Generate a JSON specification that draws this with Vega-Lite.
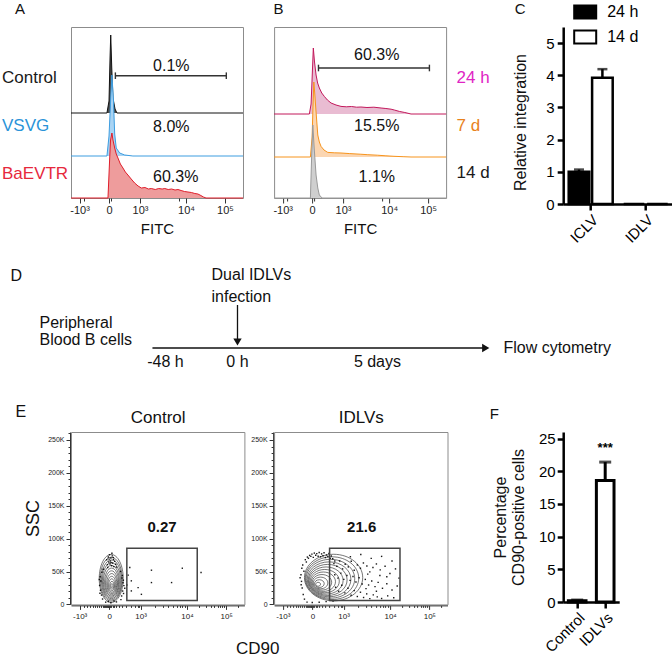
{
  "$schema": "https://vega.github.io/schema/vega-lite/v6.json",
  "background": "white",
  "padding": {"left": 1, "top": 0, "right": 0, "bottom": 0},
  "autosize": {"type": "pad"},
  "columns": 3,
  "bounds": "flush",
  "spacing": {"row": 54, "column": 29.1},
  "resolve": {"scale": {"fill": "independent", "size": "independent", "shape": "independent"}, "legend": {"fill": "independent", "size": "independent", "shape": "independent"}},
  "config": {
    "font": "Liberation Sans",
    "view": {"stroke": "#8c8c8c", "strokeWidth": 1},
    "axis": {"grid": false, "labelColor": "#222", "tickColor": "#333", "titleColor": "#111", "titleFontWeight": "normal"},
    "title": {"fontWeight": "normal", "color": "#111"}
  },
  "datasets": {
    "hist": [
      {"s":"Control","x":0,"h":0},{"s":"Control","x":209,"h":0},{"s":"Control","x":221,"h":12},{"s":"Control","x":227,"h":55},{"s":"Control","x":231,"h":78},{"s":"Control","x":237,"h":45},{"s":"Control","x":244,"h":15},{"s":"Control","x":256,"h":4},{"s":"Control","x":267,"h":0},{"s":"Control","x":1000,"h":0},
      {"s":"VSVG","x":0,"h":0},{"s":"VSVG","x":209,"h":0},{"s":"VSVG","x":221,"h":20},{"s":"VSVG","x":233,"h":65},{"s":"VSVG","x":238,"h":81},{"s":"VSVG","x":247,"h":55},{"s":"VSVG","x":254,"h":22},{"s":"VSVG","x":263,"h":8},{"s":"VSVG","x":283,"h":3},{"s":"VSVG","x":312,"h":1},{"s":"VSVG","x":360,"h":0},{"s":"VSVG","x":1000,"h":0},
      {"s":"BaEVTR","x":0,"h":0},{"s":"BaEVTR","x":215,"h":0},{"s":"BaEVTR","x":220,"h":20},{"s":"BaEVTR","x":225,"h":40},{"s":"BaEVTR","x":230,"h":58},{"s":"BaEVTR","x":238,"h":65},{"s":"BaEVTR","x":244,"h":58},{"s":"BaEVTR","x":254,"h":50},{"s":"BaEVTR","x":263,"h":44},{"s":"BaEVTR","x":273,"h":40},{"s":"BaEVTR","x":287,"h":34},{"s":"BaEVTR","x":302,"h":30},{"s":"BaEVTR","x":316,"h":26},{"s":"BaEVTR","x":331,"h":23},{"s":"BaEVTR","x":350,"h":19},{"s":"BaEVTR","x":370,"h":15},{"s":"BaEVTR","x":390,"h":12},{"s":"BaEVTR","x":409,"h":10},{"s":"BaEVTR","x":430,"h":10.5},{"s":"BaEVTR","x":450,"h":9},{"s":"BaEVTR","x":467,"h":9.5},{"s":"BaEVTR","x":490,"h":8.5},{"s":"BaEVTR","x":510,"h":9.5},{"s":"BaEVTR","x":530,"h":9},{"s":"BaEVTR","x":545,"h":9.5},{"s":"BaEVTR","x":565,"h":8.5},{"s":"BaEVTR","x":585,"h":9},{"s":"BaEVTR","x":605,"h":8},{"s":"BaEVTR","x":622,"h":8.5},{"s":"BaEVTR","x":640,"h":7.5},{"s":"BaEVTR","x":660,"h":6.5},{"s":"BaEVTR","x":680,"h":6},{"s":"BaEVTR","x":700,"h":5.5},{"s":"BaEVTR","x":720,"h":4.5},{"s":"BaEVTR","x":738,"h":4},{"s":"BaEVTR","x":755,"h":2.5},{"s":"BaEVTR","x":770,"h":1},{"s":"BaEVTR","x":785,"h":0},{"s":"BaEVTR","x":1000,"h":0},
      {"s":"24 h","x":0,"h":0},{"s":"24 h","x":205,"h":0},{"s":"24 h","x":215,"h":10},{"s":"24 h","x":222,"h":40},{"s":"24 h","x":228,"h":66},{"s":"24 h","x":235,"h":52},{"s":"24 h","x":244,"h":39},{"s":"24 h","x":253,"h":31},{"s":"24 h","x":263,"h":26},{"s":"24 h","x":277,"h":21},{"s":"24 h","x":292,"h":17.6},{"s":"24 h","x":310,"h":14},{"s":"24 h","x":331,"h":11},{"s":"24 h","x":360,"h":9},{"s":"24 h","x":389,"h":7.6},{"s":"24 h","x":420,"h":7.2},{"s":"24 h","x":450,"h":7.5},{"s":"24 h","x":480,"h":6.8},{"s":"24 h","x":505,"h":7},{"s":"24 h","x":540,"h":6.5},{"s":"24 h","x":580,"h":6.8},{"s":"24 h","x":622,"h":6},{"s":"24 h","x":650,"h":5.5},{"s":"24 h","x":680,"h":4.8},{"s":"24 h","x":699,"h":4},{"s":"24 h","x":730,"h":2.5},{"s":"24 h","x":760,"h":1.5},{"s":"24 h","x":796,"h":0},{"s":"24 h","x":1000,"h":0},
      {"s":"7 d","x":0,"h":0},{"s":"7 d","x":211,"h":0},{"s":"7 d","x":221,"h":20},{"s":"7 d","x":226,"h":50},{"s":"7 d","x":231,"h":75},{"s":"7 d","x":237,"h":62},{"s":"7 d","x":244,"h":45},{"s":"7 d","x":254,"h":22},{"s":"7 d","x":263,"h":15},{"s":"7 d","x":273,"h":10.6},{"s":"7 d","x":290,"h":7},{"s":"7 d","x":312,"h":4.6},{"s":"7 d","x":350,"h":4.2},{"s":"7 d","x":389,"h":4},{"s":"7 d","x":440,"h":3.4},{"s":"7 d","x":500,"h":2.8},{"s":"7 d","x":545,"h":2.3},{"s":"7 d","x":600,"h":1.8},{"s":"7 d","x":650,"h":1.2},{"s":"7 d","x":697,"h":0.7},{"s":"7 d","x":750,"h":0.3},{"s":"7 d","x":796,"h":0},{"s":"7 d","x":1000,"h":0},
      {"s":"14 d","x":0,"h":0},{"s":"14 d","x":211,"h":0},{"s":"14 d","x":218,"h":40},{"s":"14 d","x":225,"h":73},{"s":"14 d","x":233,"h":50},{"s":"14 d","x":244,"h":23},{"s":"14 d","x":254,"h":10},{"s":"14 d","x":263,"h":3},{"s":"14 d","x":279,"h":0},{"s":"14 d","x":1000,"h":0}
    ],
    "rings": [
      {"p":"Control","lev":12,"x":232,"y":39400},{"p":"Control","lev":11,"x":232,"y":38300},{"p":"Control","lev":10,"x":233,"y":37200},{"p":"Control","lev":9,"x":233,"y":36100},{"p":"Control","lev":8,"x":233,"y":35000},{"p":"Control","lev":7,"x":234,"y":33900},{"p":"Control","lev":6,"x":234,"y":32800},{"p":"Control","lev":5,"x":235,"y":31700},{"p":"Control","lev":4,"x":235,"y":30600},{"p":"Control","lev":3,"x":235,"y":29800},{"p":"Control","lev":2,"x":236,"y":29000},{"p":"Control","lev":1,"x":236,"y":28600},
      {"p":"IDLVs","lev":12,"x":343,"y":40800},{"p":"IDLVs","lev":11,"x":334,"y":39900},{"p":"IDLVs","lev":10,"x":325,"y":39000},{"p":"IDLVs","lev":9,"x":317,"y":38100},{"p":"IDLVs","lev":8,"x":309,"y":37200},{"p":"IDLVs","lev":7,"x":300,"y":36300},{"p":"IDLVs","lev":6,"x":292,"y":35400},{"p":"IDLVs","lev":5,"x":284,"y":34500},{"p":"IDLVs","lev":4,"x":276,"y":33600},{"p":"IDLVs","lev":3,"x":268,"y":32600},{"p":"IDLVs","lev":2,"x":261,"y":31600},{"p":"IDLVs","lev":1,"x":254,"y":30600}
    ],
    "edots": [
      {"p":"Control","x":215,"y":72000},{"p":"Control","x":222,"y":75500},{"p":"Control","x":230,"y":70500},{"p":"Control","x":238,"y":73800},{"p":"Control","x":245,"y":68200},{"p":"Control","x":228,"y":66000},{"p":"Control","x":218,"y":64500},{"p":"Control","x":240,"y":62800},{"p":"Control","x":252,"y":65500},{"p":"Control","x":210,"y":60500},{"p":"Control","x":234,"y":58800},{"p":"Control","x":247,"y":57500},{"p":"Control","x":225,"y":61500},{"p":"Control","x":258,"y":61000},{"p":"Control","x":206,"y":67800},{"p":"Control","x":236,"y":77800},{"p":"Control","x":244,"y":71200},{"p":"Control","x":220,"y":68800},{"p":"Control","x":231,"y":63500},{"p":"Control","x":212,"y":56200},{"p":"Control","x":262,"y":56800},
      {"p":"Control","x":168,"y":42000},{"p":"Control","x":172,"y":35500},{"p":"Control","x":165,"y":28800},{"p":"Control","x":170,"y":21500},{"p":"Control","x":176,"y":14200},{"p":"Control","x":182,"y":8200},{"p":"Control","x":178,"y":48800},{"p":"Control","x":186,"y":53500},{"p":"Control","x":163,"y":37800},{"p":"Control","x":167,"y":17000},
      {"p":"Control","x":296,"y":44000},{"p":"Control","x":302,"y":36800},{"p":"Control","x":305,"y":28500},{"p":"Control","x":298,"y":20300},{"p":"Control","x":292,"y":12800},{"p":"Control","x":285,"y":50200},{"p":"Control","x":288,"y":7300},{"p":"Control","x":300,"y":33000},{"p":"Control","x":310,"y":24500},{"p":"Control","x":294,"y":40200},{"p":"Control","x":303,"y":16600},
      {"p":"Control","x":200,"y":3400},{"p":"Control","x":230,"y":2600},{"p":"Control","x":262,"y":3800},{"p":"Control","x":215,"y":4500},{"p":"Control","x":248,"y":5200},
      {"p":"Control","x":339,"y":56100},{"p":"Control","x":464,"y":52000},{"p":"Control","x":642,"y":55000},{"p":"Control","x":750,"y":48500},{"p":"Control","x":348,"y":35800},{"p":"Control","x":387,"y":25500},{"p":"Control","x":464,"y":33200},{"p":"Control","x":580,"y":33200},{"p":"Control","x":348,"y":20500},{"p":"Control","x":406,"y":15300},{"p":"Control","x":330,"y":44500},{"p":"Control","x":322,"y":29500},
      {"p":"IDLVs","x":180,"y":68000},{"p":"IDLVs","x":192,"y":72000},{"p":"IDLVs","x":205,"y":74500},{"p":"IDLVs","x":218,"y":76500},{"p":"IDLVs","x":232,"y":78000},{"p":"IDLVs","x":246,"y":77200},{"p":"IDLVs","x":260,"y":79000},{"p":"IDLVs","x":274,"y":76800},{"p":"IDLVs","x":288,"y":78500},{"p":"IDLVs","x":302,"y":75200},{"p":"IDLVs","x":316,"y":77600},{"p":"IDLVs","x":330,"y":73600},{"p":"IDLVs","x":198,"y":70200},{"p":"IDLVs","x":212,"y":73000},{"p":"IDLVs","x":226,"y":71500},{"p":"IDLVs","x":240,"y":74800},{"p":"IDLVs","x":254,"y":73300},{"p":"IDLVs","x":268,"y":72400},{"p":"IDLVs","x":282,"y":74000},{"p":"IDLVs","x":296,"y":71200},{"p":"IDLVs","x":310,"y":72800},{"p":"IDLVs","x":324,"y":70000},{"p":"IDLVs","x":186,"y":64500},{"p":"IDLVs","x":338,"y":69500},{"p":"IDLVs","x":350,"y":66000},
      {"p":"IDLVs","x":160,"y":55000},{"p":"IDLVs","x":155,"y":45000},{"p":"IDLVs","x":158,"y":35000},{"p":"IDLVs","x":162,"y":25000},{"p":"IDLVs","x":168,"y":15000},{"p":"IDLVs","x":175,"y":8000},{"p":"IDLVs","x":150,"y":40500},{"p":"IDLVs","x":165,"y":60000},{"p":"IDLVs","x":172,"y":50500},{"p":"IDLVs","x":156,"y":30000},
      {"p":"IDLVs","x":190,"y":3500},{"p":"IDLVs","x":220,"y":2800},{"p":"IDLVs","x":260,"y":3200},{"p":"IDLVs","x":300,"y":4200},{"p":"IDLVs","x":340,"y":5000},
      {"p":"IDLVs","x":345,"y":62000},{"p":"IDLVs","x":362,"y":58000},{"p":"IDLVs","x":378,"y":66000},{"p":"IDLVs","x":395,"y":54000},{"p":"IDLVs","x":410,"y":61000},{"p":"IDLVs","x":428,"y":57000},{"p":"IDLVs","x":445,"y":65500},{"p":"IDLVs","x":462,"y":52000},{"p":"IDLVs","x":480,"y":60000},{"p":"IDLVs","x":498,"y":55000},{"p":"IDLVs","x":515,"y":63000},{"p":"IDLVs","x":535,"y":58500},{"p":"IDLVs","x":552,"y":49500},{"p":"IDLVs","x":570,"y":56000},{"p":"IDLVs","x":590,"y":61500},{"p":"IDLVs","x":612,"y":52500},{"p":"IDLVs","x":640,"y":58000},{"p":"IDLVs","x":668,"y":47000},{"p":"IDLVs","x":700,"y":54000},
      {"p":"IDLVs","x":350,"y":45000},{"p":"IDLVs","x":368,"y":40000},{"p":"IDLVs","x":385,"y":47500},{"p":"IDLVs","x":402,"y":38000},{"p":"IDLVs","x":420,"y":44000},{"p":"IDLVs","x":438,"y":36500},{"p":"IDLVs","x":455,"y":42500},{"p":"IDLVs","x":472,"y":34000},{"p":"IDLVs","x":490,"y":40500},{"p":"IDLVs","x":508,"y":31000},{"p":"IDLVs","x":526,"y":38000},{"p":"IDLVs","x":545,"y":29500},{"p":"IDLVs","x":563,"y":35500},{"p":"IDLVs","x":582,"y":27000},{"p":"IDLVs","x":600,"y":33500},{"p":"IDLVs","x":625,"y":24500},{"p":"IDLVs","x":650,"y":31500},{"p":"IDLVs","x":680,"y":22000},{"p":"IDLVs","x":710,"y":28000},
      {"p":"IDLVs","x":355,"y":26000},{"p":"IDLVs","x":372,"y":20000},{"p":"IDLVs","x":390,"y":29000},{"p":"IDLVs","x":408,"y":17500},{"p":"IDLVs","x":426,"y":24500},{"p":"IDLVs","x":444,"y":14000},{"p":"IDLVs","x":462,"y":21000},{"p":"IDLVs","x":480,"y":12000},{"p":"IDLVs","x":498,"y":18500},{"p":"IDLVs","x":516,"y":10500},{"p":"IDLVs","x":534,"y":16000},{"p":"IDLVs","x":552,"y":8800},{"p":"IDLVs","x":572,"y":14500},{"p":"IDLVs","x":595,"y":11500},{"p":"IDLVs","x":620,"y":9000},{"p":"IDLVs","x":655,"y":13000},{"p":"IDLVs","x":690,"y":10000},
      {"p":"IDLVs","x":560,"y":70000},{"p":"IDLVs","x":620,"y":73000},{"p":"IDLVs","x":500,"y":76000},{"p":"IDLVs","x":440,"y":72500},{"p":"IDLVs","x":680,"y":66000},{"p":"IDLVs","x":720,"y":40000},{"p":"IDLVs","x":650,"y":42000},{"p":"IDLVs","x":610,"y":44000},{"p":"IDLVs","x":540,"y":46000},{"p":"IDLVs","x":590,"y":20000},{"p":"IDLVs","x":530,"y":24000}
    ]
  },
  "concat": [
    {
      "width": 172, "height": 171,
      "resolve": {"scale": {"y": "independent"}, "axis": {"y": "independent", "x": "independent"}},
      "layer": [
        {"layer": [
          {"data": {"name": "hist"}, "transform": [{"filter": "datum.s == 'Control'"}], "mark": {"type": "area", "color": "#4a4a4a"},
           "encoding": {"x": {"field": "x", "type": "quantitative", "scale": {"domain": [0, 1000]}, "axis": null},
                        "y": {"field": "h", "type": "quantitative", "scale": {"domain": [-85, 86]}, "axis": {"orient": "left", "title": "Control", "titleAngle": 0, "titleAlign": "left", "titleBaseline": "middle", "titleX": -69.5, "titleY": 50, "titleFontSize": 17, "titleColor": "#1a1a1a", "labels": false, "ticks": false, "domain": false}}}},
          {"data": {"name": "hist"}, "transform": [{"filter": "datum.s == 'Control'"}], "mark": {"type": "line", "color": "#111", "strokeWidth": 1},
           "encoding": {"x": {"field": "x", "type": "quantitative", "scale": {"domain": [0, 1000]}, "axis": null}, "y": {"field": "h", "type": "quantitative", "scale": {"domain": [-85, 86]}}}},
          {"data": {"values": [{"x1": 258, "x2": 903, "h": 37.3, "lo": 34, "hi": 40.6}]}, "mark": {"type": "rule", "color": "#333", "strokeWidth": 1.4},
           "encoding": {"x": {"field": "x1", "type": "quantitative", "scale": {"domain": [0, 1000]}, "axis": null}, "x2": {"field": "x2"}, "y": {"field": "h", "type": "quantitative", "scale": {"domain": [-85, 86]}}}},
          {"data": {"values": [{"x1": 258, "x2": 903, "h": 37.3, "lo": 34, "hi": 40.6}]}, "mark": {"type": "rule", "color": "#333", "strokeWidth": 1.4},
           "encoding": {"x": {"field": "x1", "type": "quantitative", "scale": {"domain": [0, 1000]}, "axis": null}, "y": {"field": "lo", "type": "quantitative", "scale": {"domain": [-85, 86]}}, "y2": {"field": "hi"}}},
          {"data": {"values": [{"x1": 258, "x2": 903, "h": 37.3, "lo": 34, "hi": 40.6}]}, "mark": {"type": "rule", "color": "#333", "strokeWidth": 1.4},
           "encoding": {"x": {"field": "x2", "type": "quantitative", "scale": {"domain": [0, 1000]}, "axis": null}, "y": {"field": "lo", "type": "quantitative", "scale": {"domain": [-85, 86]}}, "y2": {"field": "hi"}}},
          {"data": {"values": [{"x": 477, "h": 46.6, "t": "0.1%"}]}, "mark": {"type": "text", "align": "left", "baseline": "middle", "fontSize": 16, "color": "#111"},
           "encoding": {"x": {"field": "x", "type": "quantitative", "scale": {"domain": [0, 1000]}, "axis": null}, "y": {"field": "h", "type": "quantitative", "scale": {"domain": [-85, 86]}}, "text": {"field": "t"}}}
        ]},
        {"layer": [
          {"data": {"name": "hist"}, "transform": [{"filter": "datum.s == 'VSVG'"}], "mark": {"type": "area", "color": "#a9d4f4"},
           "encoding": {"x": {"field": "x", "type": "quantitative", "scale": {"domain": [0, 1000]}, "axis": {"orient": "bottom", "values": [75,95,112,127,140,152,163,173,182,190,197,203,208,212,216,226,232,240,250,262,277,295,318,345,370,385,393,482,529,562,588,610,628,643,657,737,777,805,827,845,860,873,885,963], "labels": false, "tickSize": 3, "domain": false, "title": "A", "titleX": -56.5, "titleY": -184.5, "titleAlign": "left", "titleBaseline": "alphabetic", "titleAngle": 0, "titleFontSize": 15}},
                        "y": {"field": "h", "type": "quantitative", "scale": {"domain": [-42, 129]}, "axis": {"orient": "left", "title": "VSVG", "titleAngle": 0, "titleAlign": "left", "titleBaseline": "middle", "titleX": -69.5, "titleY": 98, "titleFontSize": 17, "titleColor": "#2a93d8", "labels": false, "ticks": false, "domain": false}}}},
          {"data": {"name": "hist"}, "transform": [{"filter": "datum.s == 'VSVG'"}], "mark": {"type": "line", "color": "#3d9de0", "strokeWidth": 1},
           "encoding": {"x": {"field": "x", "type": "quantitative", "scale": {"domain": [0, 1000]}}, "y": {"field": "h", "type": "quantitative", "scale": {"domain": [-42, 129]}}}},
          {"data": {"values": [{"x": 477, "h": 29.3, "t": "8.0%"}]}, "mark": {"type": "text", "align": "left", "baseline": "middle", "fontSize": 16, "color": "#111"},
           "encoding": {"x": {"field": "x", "type": "quantitative", "scale": {"domain": [0, 1000]}}, "y": {"field": "h", "type": "quantitative", "scale": {"domain": [-42, 129]}}, "text": {"field": "t"}}}
        ]},
        {"layer": [
          {"data": {"name": "hist"}, "transform": [{"filter": "datum.s == 'BaEVTR'"}], "mark": {"type": "area", "color": "#ee9c9c"},
           "encoding": {"x": {"field": "x", "type": "quantitative", "scale": {"domain": [0, 1000]}, "axis": {"orient": "bottom", "values": [50, 221, 401, 669, 895], "labelExpr": "{'50':'-10³','221':'0','401':'10³','669':'10⁴','895':'10⁵'}[datum.value]", "labelFontSize": 11, "tickSize": 5, "domain": false, "labelPadding": 1, "title": "FITC", "titleFontSize": 15, "titleY": 30, "titleBaseline": "middle"}},
                        "y": {"field": "h", "type": "quantitative", "scale": {"domain": [0, 171]}, "axis": {"orient": "left", "title": "BaEVTR", "titleAngle": 0, "titleAlign": "left", "titleBaseline": "middle", "titleX": -69.5, "titleY": 146, "titleFontSize": 17, "titleColor": "#e6283c", "labels": false, "ticks": false, "domain": false}}}},
          {"data": {"name": "hist"}, "transform": [{"filter": "datum.s == 'BaEVTR'"}], "mark": {"type": "line", "color": "#e01e2b", "strokeWidth": 1},
           "encoding": {"x": {"field": "x", "type": "quantitative", "scale": {"domain": [0, 1000]}}, "y": {"field": "h", "type": "quantitative", "scale": {"domain": [0, 171]}}}},
          {"data": {"values": [{"x": 477, "h": 21.3, "t": "60.3%"}]}, "mark": {"type": "text", "align": "left", "baseline": "middle", "fontSize": 16, "color": "#111"},
           "encoding": {"x": {"field": "x", "type": "quantitative", "scale": {"domain": [0, 1000]}}, "y": {"field": "h", "type": "quantitative", "scale": {"domain": [0, 171]}}, "text": {"field": "t"}}}
        ]}
      ]
    },
    {
      "width": 172, "height": 171,
      "resolve": {"scale": {"y": "independent"}, "axis": {"y": "independent", "x": "independent"}},
      "layer": [
        {"layer": [
          {"data": {"name": "hist"}, "transform": [{"filter": "datum.s == '24 h'"}], "mark": {"type": "area", "color": "#e9bcd2"},
           "encoding": {"x": {"field": "x", "type": "quantitative", "scale": {"domain": [0, 1000]}, "axis": null},
                        "y": {"field": "h", "type": "quantitative", "scale": {"domain": [-84, 87]}, "axis": {"orient": "right", "title": "24 h", "titleAngle": 0, "titleAlign": "left", "titleBaseline": "middle", "titleX": 10, "titleY": 50, "titleFontSize": 17, "titleColor": "#e024c4", "labels": false, "ticks": false, "domain": false}}}},
          {"data": {"name": "hist"}, "transform": [{"filter": "datum.s == '24 h'"}], "mark": {"type": "line", "color": "#c2185b", "strokeWidth": 1},
           "encoding": {"x": {"field": "x", "type": "quantitative", "scale": {"domain": [0, 1000]}, "axis": null}, "y": {"field": "h", "type": "quantitative", "scale": {"domain": [-84, 87]}}}},
          {"data": {"values": [{"x1": 258, "x2": 903, "h": 46, "lo": 42.7, "hi": 49.3}]}, "mark": {"type": "rule", "color": "#333", "strokeWidth": 1.4},
           "encoding": {"x": {"field": "x1", "type": "quantitative", "scale": {"domain": [0, 1000]}, "axis": null}, "x2": {"field": "x2"}, "y": {"field": "h", "type": "quantitative", "scale": {"domain": [-84, 87]}}}},
          {"data": {"values": [{"x1": 258, "x2": 903, "h": 46, "lo": 42.7, "hi": 49.3}]}, "mark": {"type": "rule", "color": "#333", "strokeWidth": 1.4},
           "encoding": {"x": {"field": "x1", "type": "quantitative", "scale": {"domain": [0, 1000]}, "axis": null}, "y": {"field": "lo", "type": "quantitative", "scale": {"domain": [-84, 87]}}, "y2": {"field": "hi"}}},
          {"data": {"values": [{"x1": 258, "x2": 903, "h": 46, "lo": 42.7, "hi": 49.3}]}, "mark": {"type": "rule", "color": "#333", "strokeWidth": 1.4},
           "encoding": {"x": {"field": "x2", "type": "quantitative", "scale": {"domain": [0, 1000]}, "axis": null}, "y": {"field": "lo", "type": "quantitative", "scale": {"domain": [-84, 87]}}, "y2": {"field": "hi"}}},
          {"data": {"values": [{"x": 597, "h": 59.3, "t": "60.3%"}]}, "mark": {"type": "text", "align": "center", "baseline": "middle", "fontSize": 16, "color": "#111"},
           "encoding": {"x": {"field": "x", "type": "quantitative", "scale": {"domain": [0, 1000]}, "axis": null}, "y": {"field": "h", "type": "quantitative", "scale": {"domain": [-84, 87]}}, "text": {"field": "t"}}}
        ]},
        {"layer": [
          {"data": {"name": "hist"}, "transform": [{"filter": "datum.s == '7 d'"}], "mark": {"type": "area", "color": "#fbd6b2"},
           "encoding": {"x": {"field": "x", "type": "quantitative", "scale": {"domain": [0, 1000]}, "axis": {"orient": "bottom", "values": [75,95,112,127,140,152,163,173,182,190,197,203,208,212,216,226,232,240,250,262,277,295,318,345,370,385,393,482,529,562,588,610,628,643,657,737,777,805,827,845,860,873,885,963], "labels": false, "tickSize": 3, "domain": false, "title": "B", "titleX": -1, "titleY": -184.5, "titleAlign": "left", "titleBaseline": "alphabetic", "titleAngle": 0, "titleFontSize": 15}},
                        "y": {"field": "h", "type": "quantitative", "scale": {"domain": [-41, 130]}, "axis": {"orient": "right", "title": "7 d", "titleAngle": 0, "titleAlign": "left", "titleBaseline": "middle", "titleX": 10, "titleY": 98, "titleFontSize": 17, "titleColor": "#e8821c", "labels": false, "ticks": false, "domain": false}}}},
          {"data": {"name": "hist"}, "transform": [{"filter": "datum.s == '7 d'"}], "mark": {"type": "line", "color": "#f7941d", "strokeWidth": 1},
           "encoding": {"x": {"field": "x", "type": "quantitative", "scale": {"domain": [0, 1000]}}, "y": {"field": "h", "type": "quantitative", "scale": {"domain": [-41, 130]}}}},
          {"data": {"values": [{"x": 597, "h": 30.6, "t": "15.5%"}]}, "mark": {"type": "text", "align": "center", "baseline": "middle", "fontSize": 16, "color": "#111"},
           "encoding": {"x": {"field": "x", "type": "quantitative", "scale": {"domain": [0, 1000]}}, "y": {"field": "h", "type": "quantitative", "scale": {"domain": [-41, 130]}}, "text": {"field": "t"}}}
        ]},
        {"layer": [
          {"data": {"name": "hist"}, "transform": [{"filter": "datum.s == '14 d'"}], "mark": {"type": "area", "color": "#cfcfcf"},
           "encoding": {"x": {"field": "x", "type": "quantitative", "scale": {"domain": [0, 1000]}, "axis": {"orient": "bottom", "values": [50, 221, 401, 669, 895], "labelExpr": "{'50':'-10³','221':'0','401':'10³','669':'10⁴','895':'10⁵'}[datum.value]", "labelFontSize": 11, "tickSize": 5, "domain": false, "labelPadding": 1, "title": "FITC", "titleFontSize": 15, "titleY": 30, "titleBaseline": "middle"}},
                        "y": {"field": "h", "type": "quantitative", "scale": {"domain": [0, 171]}, "axis": {"orient": "right", "title": "14 d", "titleAngle": 0, "titleAlign": "left", "titleBaseline": "middle", "titleX": 10, "titleY": 145, "titleFontSize": 17, "titleColor": "#1a1a1a", "labels": false, "ticks": false, "domain": false}}}},
          {"data": {"name": "hist"}, "transform": [{"filter": "datum.s == '14 d'"}], "mark": {"type": "line", "color": "#9a9a9a", "strokeWidth": 1},
           "encoding": {"x": {"field": "x", "type": "quantitative", "scale": {"domain": [0, 1000]}}, "y": {"field": "h", "type": "quantitative", "scale": {"domain": [0, 171]}}}},
          {"data": {"values": [{"x": 597, "h": 21.3, "t": "1.1%"}]}, "mark": {"type": "text", "align": "center", "baseline": "middle", "fontSize": 16, "color": "#111"},
           "encoding": {"x": {"field": "x", "type": "quantitative", "scale": {"domain": [0, 1000]}}, "y": {"field": "h", "type": "quantitative", "scale": {"domain": [0, 171]}}, "text": {"field": "t"}}}
        ]}
      ]
    },
    {
      "width": 110, "height": 177,
      "view": {"stroke": null},
      "resolve": {"axis": {"x": "independent", "y": "independent"}},
      "data": {"values": [
        {"vector": "ICLV", "time": "24 h", "value": 1.0, "upper": 1.07},
        {"vector": "ICLV", "time": "14 d", "value": 3.92, "upper": 4.19},
        {"vector": "IDLV", "time": "24 h", "value": 0, "upper": 0},
        {"vector": "IDLV", "time": "14 d", "value": 0, "upper": 0}
      ]},
      "layer": [
        {"mark": {"type": "bar", "stroke": "black", "strokeWidth": 2.5},
         "encoding": {
           "x": {"field": "vector", "type": "nominal", "scale": {"paddingInner": 0.2, "paddingOuter": 0.1}, "axis": {"title": "C", "titleX": -49, "titleY": -190.5, "titleAlign": "left", "titleBaseline": "alphabetic", "titleAngle": 0, "titleFontSize": 15, "labelAngle": -45, "labelFontSize": 15, "labelColor": "black", "tickSize": 6, "tickWidth": 2.5, "tickColor": "black", "domainWidth": 2.5, "domainColor": "black"}},
           "xOffset": {"field": "time", "type": "nominal", "sort": ["24 h", "14 d"], "scale": {"paddingInner": 0.12}},
           "y": {"field": "value", "type": "quantitative", "scale": {"domain": [0, 5.176]}, "axis": {"values": [0, 1, 2, 3, 4, 5], "labelOverlap": false, "title": "Relative integration", "titleFontSize": 16, "titleX": -43, "titleY": 95, "titleAngle": -90, "titleAlign": "center", "titleBaseline": "middle", "labelFontSize": 15, "labelColor": "black", "tickSize": 6, "tickWidth": 2.5, "tickColor": "black", "domainWidth": 2.5, "domainColor": "black", "labelPadding": 3}},
           "fill": {"field": "time", "type": "nominal", "sort": ["24 h", "14 d"], "scale": {"domain": ["24 h", "14 d"], "range": ["#000000", "#ffffff"]},
                    "legend": {"orient": "none", "legendX": 10, "legendY": -27, "title": null, "labelFontSize": 16, "labelColor": "black", "symbolType": "M-1,-0.6H1V0.6H-1Z", "symbolSize": 484, "symbolStrokeColor": "black", "symbolStrokeWidth": 2, "labelOffset": 10, "rowPadding": 2, "padding": 0}}
         }},
        {"transform": [{"filter": "datum.upper > datum.value"}], "mark": {"type": "rule", "strokeWidth": 2.5, "color": "black"},
         "encoding": {"x": {"field": "vector", "type": "nominal", "axis": null}, "xOffset": {"field": "time", "type": "nominal", "sort": ["24 h", "14 d"]}, "y": {"field": "value", "type": "quantitative", "axis": null}, "y2": {"field": "upper"}}},
        {"transform": [{"filter": "datum.upper > datum.value"}], "mark": {"type": "tick", "orient": "horizontal", "size": 10, "thickness": 2.5, "color": "black"},
         "encoding": {"x": {"field": "vector", "type": "nominal", "axis": null}, "xOffset": {"field": "time", "type": "nominal", "sort": ["24 h", "14 d"]}, "y": {"field": "upper", "type": "quantitative", "axis": null}}}
      ]
    },
    {
      "width": 172, "height": 119.6,
      "view": {"stroke": null},
      "layer": [
        {"data": {"values": [{"t": -56.7, "t2": 164.7, "lev": 2.7}]}, "mark": {"type": "rule", "color": "#111", "strokeWidth": 1.3},
         "encoding": {"x": {"field": "t", "type": "quantitative", "scale": {"domain": [-111, 3.67]}, "axis": null}, "x2": {"field": "t2"}, "y": {"field": "lev", "type": "quantitative", "scale": {"domain": [-0.26, 11.7]}, "axis": null}}},
        {"data": {"values": [{"t": 0, "lev": 7.0, "lev2": 3.6}]}, "mark": {"type": "rule", "color": "#111", "strokeWidth": 1.3},
         "encoding": {"x": {"field": "t", "type": "quantitative", "scale": {"domain": [-111, 3.67]}, "axis": null}, "y": {"field": "lev", "type": "quantitative", "scale": {"domain": [-0.26, 11.7]}, "axis": null}, "y2": {"field": "lev2"}}},
        {"data": {"values": [{"t": 165.5, "lev": 2.7, "dir": "right"}, {"t": 0, "lev": 3.3, "dir": "down"}]}, "mark": {"type": "point", "filled": true, "color": "#111", "size": 70, "opacity": 1},
         "encoding": {"x": {"field": "t", "type": "quantitative", "scale": {"domain": [-111, 3.67]}, "axis": null}, "y": {"field": "lev", "type": "quantitative", "scale": {"domain": [-0.26, 11.7]}, "axis": null},
                      "shape": {"field": "dir", "type": "nominal", "scale": {"domain": ["right", "down"], "range": ["triangle-right", "triangle-down"]}, "legend": null}}},
        {"data": {"values": [
           {"label": "D", "t": -151.3, "lev": 9.9},
           {"label": "E", "t": -148, "lev": -3.7},
           {"label": "Dual IDLVs", "t": -17.3, "lev": 10.0},
           {"label": "infection", "t": -17.3, "lev": 7.8},
           {"label": "Peripheral", "t": -132, "lev": 5.2},
           {"label": "Blood B cells", "t": -132, "lev": 3.5},
           {"label": "Flow cytometry", "t": 177.3, "lev": 2.7}
         ]}, "mark": {"type": "text", "align": "left", "baseline": "middle", "fontSize": 16, "color": "#111"},
         "encoding": {"x": {"field": "t", "type": "quantitative", "scale": {"domain": [-111, 3.67]}, "axis": null}, "y": {"field": "lev", "type": "quantitative", "scale": {"domain": [-0.26, 11.7]}, "axis": null}, "text": {"field": "label"}}},
        {"data": {"values": [
           {"label": "-48 h", "t": -48, "lev": 1.3},
           {"label": "0 h", "t": 0, "lev": 1.3},
           {"label": "5 days", "t": 93.3, "lev": 1.3}
         ]}, "mark": {"type": "text", "align": "center", "baseline": "middle", "fontSize": 16, "color": "#111"},
         "encoding": {"x": {"field": "t", "type": "quantitative", "scale": {"domain": [-111, 3.67]}, "axis": null}, "y": {"field": "lev", "type": "quantitative", "scale": {"domain": [-0.26, 11.7]}, "axis": null}, "text": {"field": "label"}}}
      ]
    },
    {"width": 260, "height": 1, "data": {"values": []}, "mark": "point", "encoding": {}, "view": {"stroke": null}},
    {"width": 1, "height": 1, "data": {"values": []}, "mark": "point", "encoding": {}, "view": {"stroke": null}},
    {
      "width": 173.4, "height": 172.4,
      "resolve": {"axis": {"x": "independent", "y": "independent"}},
      "layer": [
        {"data": {"name": "rings"}, "transform": [{"filter": "datum.p == 'Control'"}],
         "mark": {"type": "point", "shape": "M0,-1A0.5,1 0 1,1 0,1A0.5,1 0 1,1 0,-1Z", "filled": false, "strokeWidth": 0.6, "color": "#1a1a1a", "opacity": 1},
         "encoding": {
           "x": {"field": "x", "type": "quantitative", "scale": {"domain": [0, 1000]}, "axis": {"orient": "bottom", "values": [75,95,112,127,140,152,163,173,182,190,197,203,208,212,216,226,232,240,250,262,277,295,318,345,370,385,393,482,529,562,588,610,628,643,657,737,777,805,827,845,860,873,885,963], "labels": false, "tickSize": 2, "domain": false, "offset": 1, "title": null}},
           "y": {"field": "y", "type": "quantitative", "scale": {"domain": [0, 262144]}, "axis": {"orient": "left", "values": [10000,20000,30000,40000,60000,70000,80000,90000,110000,120000,130000,140000,160000,170000,180000,190000,210000,220000,230000,240000,260000], "labels": false, "tickSize": 2, "domain": false, "offset": 1, "title": "Control", "titleAngle": 0, "titleAlign": "center", "titleBaseline": "alphabetic", "titleX": 87.7, "titleY": -9.6, "titleFontSize": 17}},
           "size": {"field": "lev", "type": "quantitative", "scale": {"type": "pow", "exponent": 2, "domain": [0, 12], "range": [0, 2304]}, "legend": null}
         }},
        {"data": {"name": "edots"}, "transform": [{"filter": "datum.p == 'Control'"}],
         "mark": {"type": "square", "size": 2, "color": "#000", "opacity": 0.9},
         "encoding": {
           "x": {"field": "x", "type": "quantitative", "scale": {"domain": [0, 1000]}, "axis": {"orient": "bottom", "values": [50, 221, 401, 669, 895], "labelExpr": "{'50':'-10³','221':'0','401':'10³','669':'10⁴','895':'10⁵'}[datum.value]", "labelFontSize": 8, "tickSize": 4, "domain": true, "domainColor": "#333", "offset": 1, "labelPadding": 3, "title": "CD90", "titleFontSize": 17, "titleX": 186.2, "titleY": 43, "titleBaseline": "middle"}},
           "y": {"field": "y", "type": "quantitative", "scale": {"domain": [0, 262144]}, "axis": {"orient": "left", "values": [0, 50000, 100000, 150000, 200000, 250000], "labelExpr": "datum.value == 0 ? '0' : (datum.value / 1000) + 'K'", "labelFontSize": 7, "tickSize": 4, "domain": true, "domainColor": "#333", "offset": 1, "labelPadding": 2, "title": "SSC", "titleFontSize": 18, "titleX": -36.5, "titleY": 86, "titleAngle": -90, "titleAlign": "center", "titleBaseline": "middle"}}
         }},
        {"data": {"values": [{"x1": 322, "x2": 728, "y1": 6100, "y2": 85200}]}, "mark": {"type": "rect", "filled": false, "stroke": "#444", "strokeWidth": 1.5},
         "encoding": {"x": {"field": "x1", "type": "quantitative", "scale": {"domain": [0, 1000]}, "axis": null}, "x2": {"field": "x2"}, "y": {"field": "y1", "type": "quantitative", "scale": {"domain": [0, 262144]}, "axis": null}, "y2": {"field": "y2"}}},
        {"data": {"values": [{"x": 525, "y": 117300, "t": "0.27"}]}, "mark": {"type": "text", "fontSize": 15, "fontWeight": "bold", "align": "center", "baseline": "middle", "color": "#111"},
         "encoding": {"x": {"field": "x", "type": "quantitative", "scale": {"domain": [0, 1000]}, "axis": null}, "y": {"field": "y", "type": "quantitative", "scale": {"domain": [0, 262144]}, "axis": null}, "text": {"field": "t"}}}
      ]
    },
    {
      "width": 173.4, "height": 172.4,
      "resolve": {"axis": {"x": "independent", "y": "independent"}},
      "layer": [
        {"data": {"name": "rings"}, "transform": [{"filter": "datum.p == 'IDLVs'"}],
         "mark": {"type": "point", "shape": "M0,-1A1.25,1 0 1,1 0,1A1.25,1 0 1,1 0,-1Z", "filled": false, "strokeWidth": 0.6, "color": "#1a1a1a", "opacity": 1},
         "encoding": {
           "x": {"field": "x", "type": "quantitative", "scale": {"domain": [0, 1000]}, "axis": {"orient": "bottom", "values": [75,95,112,127,140,152,163,173,182,190,197,203,208,212,216,226,232,240,250,262,277,295,318,345,370,385,393,482,529,562,588,610,628,643,657,737,777,805,827,845,860,873,885,963], "labels": false, "tickSize": 2, "domain": false, "offset": 1, "title": null}},
           "y": {"field": "y", "type": "quantitative", "scale": {"domain": [0, 262144]}, "axis": {"orient": "left", "values": [10000,20000,30000,40000,60000,70000,80000,90000,110000,120000,130000,140000,160000,170000,180000,190000,210000,220000,230000,240000,260000], "labels": false, "tickSize": 2, "domain": false, "offset": 1, "title": "IDLVs", "titleAngle": 0, "titleAlign": "center", "titleBaseline": "alphabetic", "titleX": 87.7, "titleY": -9.6, "titleFontSize": 17}},
           "size": {"field": "lev", "type": "quantitative", "scale": {"type": "pow", "exponent": 2, "domain": [0, 12], "range": [0, 2172]}, "legend": null}
         }},
        {"data": {"name": "edots"}, "transform": [{"filter": "datum.p == 'IDLVs'"}],
         "mark": {"type": "square", "size": 2, "color": "#000", "opacity": 0.9},
         "encoding": {
           "x": {"field": "x", "type": "quantitative", "scale": {"domain": [0, 1000]}, "axis": {"orient": "bottom", "values": [50, 221, 401, 669, 895], "labelExpr": "{'50':'-10³','221':'0','401':'10³','669':'10⁴','895':'10⁵'}[datum.value]", "labelFontSize": 8, "tickSize": 4, "domain": true, "domainColor": "#333", "offset": 1, "labelPadding": 3, "title": null}},
           "y": {"field": "y", "type": "quantitative", "scale": {"domain": [0, 262144]}, "axis": {"orient": "left", "values": [0, 50000, 100000, 150000, 200000, 250000], "labelExpr": "datum.value == 0 ? '0' : (datum.value / 1000) + 'K'", "labelFontSize": 7, "tickSize": 4, "domain": true, "domainColor": "#333", "offset": 1, "labelPadding": 2, "title": null}}
         }},
        {"data": {"values": [{"x1": 320, "x2": 726, "y1": 6100, "y2": 85200}]}, "mark": {"type": "rect", "filled": false, "stroke": "#444", "strokeWidth": 1.5},
         "encoding": {"x": {"field": "x1", "type": "quantitative", "scale": {"domain": [0, 1000]}, "axis": null}, "x2": {"field": "x2"}, "y": {"field": "y1", "type": "quantitative", "scale": {"domain": [0, 262144]}, "axis": null}, "y2": {"field": "y2"}}},
        {"data": {"values": [{"x": 505, "y": 117300, "t": "21.6"}]}, "mark": {"type": "text", "fontSize": 15, "fontWeight": "bold", "align": "center", "baseline": "middle", "color": "#111"},
         "encoding": {"x": {"field": "x", "type": "quantitative", "scale": {"domain": [0, 1000]}, "axis": null}, "y": {"field": "y", "type": "quantitative", "scale": {"domain": [0, 262144]}, "axis": null}, "text": {"field": "t"}}}
      ]
    },
    {
      "width": 56, "height": 170,
      "view": {"stroke": null},
      "resolve": {"axis": {"x": "independent", "y": "independent"}},
      "data": {"values": [
        {"group": "Control", "value": 0.2, "upper": 0.3, "sig": ""},
        {"group": "IDLVs", "value": 18.6, "upper": 21.4, "sig": "***"}
      ]},
      "layer": [
        {"mark": {"type": "bar", "fill": "white", "stroke": "black", "strokeWidth": 3, "width": {"band": 0.7}},
         "encoding": {
           "x": {"field": "group", "type": "nominal", "sort": ["Control", "IDLVs"], "scale": {"paddingInner": 0.1, "paddingOuter": 0.05}, "axis": {"title": "F", "titleX": -74, "titleY": -183.6, "titleAlign": "left", "titleBaseline": "alphabetic", "titleAngle": 0, "titleFontSize": 15, "labelAngle": -45, "labelFontSize": 15, "labelColor": "black", "tickSize": 6, "tickWidth": 2.5, "tickColor": "black", "domainWidth": 2.5, "domainColor": "black"}},
           "y": {"field": "value", "type": "quantitative", "scale": {"domain": [0, 25]}, "axis": {"values": [0, 5, 10, 15, 20, 25], "labelOverlap": false, "title": ["Percentage", "CD90-positive cells"], "titleFontSize": 16, "titleX": -63, "titleY": 85, "titleAngle": -90, "titleAlign": "center", "titleBaseline": "middle", "labelFontSize": 15, "labelColor": "black", "tickSize": 6, "tickWidth": 2.5, "tickColor": "black", "domainWidth": 2.5, "domainColor": "black", "labelPadding": 2}}
         }},
        {"mark": {"type": "rule", "strokeWidth": 3, "color": "black"},
         "encoding": {"x": {"field": "group", "type": "nominal", "sort": ["Control", "IDLVs"], "axis": null}, "y": {"field": "value", "type": "quantitative", "axis": null}, "y2": {"field": "upper"}}},
        {"mark": {"type": "tick", "orient": "horizontal", "size": 12, "thickness": 3, "color": "black"},
         "encoding": {"x": {"field": "group", "type": "nominal", "sort": ["Control", "IDLVs"], "axis": null}, "y": {"field": "upper", "type": "quantitative", "axis": null}}},
        {"mark": {"type": "text", "fontSize": 13, "fontWeight": "bold", "baseline": "middle", "dy": -14, "color": "black"},
         "encoding": {"x": {"field": "group", "type": "nominal", "sort": ["Control", "IDLVs"], "axis": null}, "y": {"field": "upper", "type": "quantitative", "axis": null}, "text": {"field": "sig"}}}
      ]
    }
  ]
}
